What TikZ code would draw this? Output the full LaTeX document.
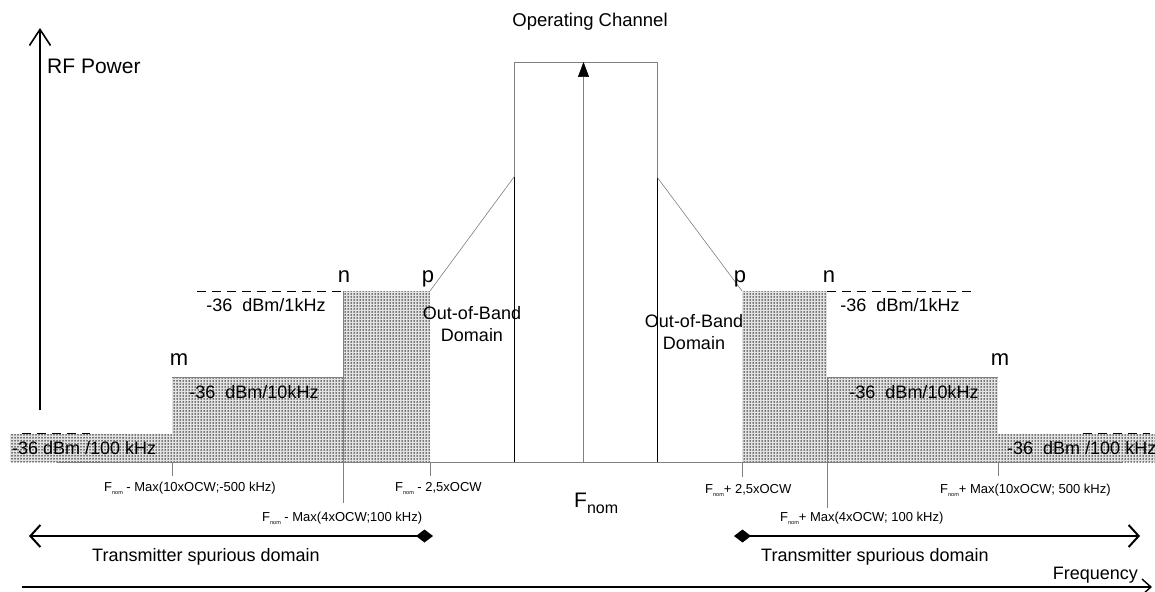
\documentclass[tikz,border=0pt]{standalone}
\usepackage{fontspec}
\setmainfont{Liberation Sans}
\usetikzlibrary{arrows.meta,patterns,patterns.meta}
\newcommand{\Fsub}{F\raisebox{-3pt}{\fontsize{5.5}{5.5}\selectfont nom}}
\begin{document}
\begin{tikzpicture}[x=1pt,y=-1pt,
  lbl/.style={font=\fontsize{18}{18}\selectfont, inner sep=0pt},
  letter/.style={font=\fontsize{22}{22}\selectfont, inner sep=0pt, anchor=base},
  small/.style={font=\fontsize{13}{13}\selectfont, inner sep=0pt, anchor=west},
  thinline/.style={draw=gray, line width=0.6pt},
  stipbg/.style={fill=gray!22},
  stip/.style={pattern={Dots[distance=3pt,radius=0.75pt]}, pattern color=black},
  lvl/.style={dashed, dash pattern=on 9pt off 6pt, line width=1pt},
  axis/.style={line width=1.6pt},
  spur/.style={line width=2.5pt}
]
\useasboundingbox (0,0) rectangle (1155,591);

% stippled emission masks
\foreach \a/\b/\c/\d in {10/434/172/462, 172/377/343/462, 343/291/430/462,
                         742/291/827/462, 827/377/998/462, 998/434/1160/462}{
  \fill[stipbg] (\a,\b) rectangle (\c,\d);
  \fill[stip] (\a,\b) rectangle (\c,\d);
}
\draw[thinline] (172,377) -- (343,377);
\draw[thinline] (827,377) -- (998,377);
\draw[thinline] (57,462) -- (1123,462);

% level dashed lines
\draw[lvl] (197,291) -- (343,291);
\draw[lvl] (827,291) -- (975,291);
\draw[lvl] (22,433) -- (90,433);
\draw[lvl] (1083,433) -- (1150,433);

% ticks
\draw[thinline] (172,462) -- (172,476);
\draw[thinline] (343,291) -- (343,503);
\draw[thinline] (430,462) -- (430,476);
\draw[thinline] (742,462) -- (742,477);
\draw[thinline] (827,377) -- (827,508);
\draw[thinline] (998,462) -- (998,476);

% operating channel
\coordinate (chBL) at (514,462);
\coordinate (chTL) at (514,62);
\coordinate (chTR) at (657,62);
\coordinate (chBR) at (657,462);
\coordinate (slL) at (514,177);
\coordinate (slR) at (657,177);
\coordinate (pL) at (430,291);
\coordinate (pR) at (742,291);
\draw[thinline] (slL) -- (chTL) -- (chTR) -- (slR);
\draw[line width=0.6pt] (chBL) -- (slL);
\draw[line width=0.6pt] (chBR) -- (slR);
\draw[thinline] (slL) -- (pL);
\draw[thinline] (slR) -- (pR);
\coordinate (cBot) at (583.5,462);
\coordinate (cTop) at (583.5,62);
\draw[thinline, -{Triangle[length=15pt,width=11pt,color=black,fill=black]}] (cBot) -- (cTop);
\node[font=\fontsize{18.5}{18.5}\selectfont, inner sep=0pt] (opch) at (590,22) {Operating Channel};

% axes
\coordinate (yb) at (40,410);
\coordinate (yt) at (40,28);
\draw[axis, -{Straight Barb[length=16pt,width=21pt,line width=1.6pt]}] (yb) -- (yt);
\node[font=\fontsize{21}{21}\selectfont, inner sep=0pt, anchor=west] (rfp) at (47,66) {RF Power};
\coordinate (xl) at (22,587);
\coordinate (xr) at (1152,587);
\draw[axis, -{Straight Barb[length=9pt,width=16pt,line width=1.4pt]}] (xl) -- (xr);
\node[lbl, anchor=east] (freq) at (1138,575) {Frequency};

% letters
\node[letter] (mL) at (179,365) {m};
\node[letter] (nL) at (344,282) {n};
\node[letter] (pLt) at (428,282) {p};
\node[letter] (pRt) at (740,282) {p};
\node[letter] (nR) at (829,282) {n};
\node[letter] (mR) at (1000,365) {m};

% level labels
\node[lbl] (l1L) at (266,305) {-36~ dBm/1kHz};
\node[lbl] (l1R) at (900,305) {-36~ dBm/1kHz};
\node[lbl] (l10L) at (254,392) {-36~ dBm/10kHz};
\node[lbl] (l10R) at (914,392) {-36~ dBm/10kHz};
\node[lbl, anchor=west] (l100L) at (12,448) {-36 dBm /100 kHz};
\node[lbl, anchor=west] (l100R) at (1007,448) {-36~ dBm /100 kHz};

% out-of-band
\node[lbl, align=center] (oobL) at (472,324) {Out-of-Band\\[4pt]Domain};
\node[lbl, align=center] (oobR) at (694,332) {Out-of-Band\\[4pt]Domain};

% frequency labels
\node[small] (f1) at (104,488) {\Fsub\ - Max(10xOCW;-500 kHz)};
\node[small] (f2) at (395,488) {\Fsub\ - 2,5xOCW};
\node[small] (f3) at (262,518) {\Fsub\ - Max(4xOCW;100 kHz)};
\node[small] (f4) at (705,490) {\Fsub+ 2,5xOCW};
\node[small] (f5) at (940,490) {\Fsub+ Max(10xOCW; 500 kHz)};
\node[small] (f6) at (780,518) {\Fsub+ Max(4xOCW; 100 kHz)};
\node[inner sep=0pt, anchor=west] (fnom) at (574,503) {\fontsize{21}{21}\selectfont F\raisebox{-6pt}{\fontsize{16}{16}\selectfont nom}};

% spurious domains
\coordinate (sLa) at (433,536);
\coordinate (sLb) at (29,536);
\coordinate (sRa) at (734,536);
\coordinate (sRb) at (1140,536);
\draw[spur, {Diamond[length=17pt,width=13pt]}-{Straight Barb[length=10pt,width=22pt,line width=2pt]}] (sLa) -- (sLb);
\draw[spur, {Diamond[length=17pt,width=13pt]}-{Straight Barb[length=10pt,width=22pt,line width=2pt]}] (sRa) -- (sRb);
\node[lbl, anchor=west] (tsL) at (92,557) {Transmitter spurious domain};
\node[lbl, anchor=west] (tsR) at (761,557) {Transmitter spurious domain};
\end{tikzpicture}
\end{document}
